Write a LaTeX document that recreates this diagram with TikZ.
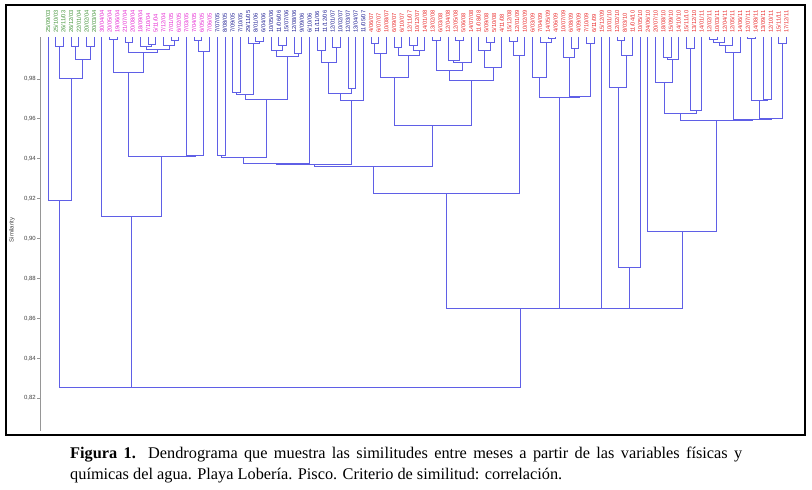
\documentclass[tikz,border=0pt]{standalone}
\usepackage{fontspec}
\setmainfont{Liberation Serif}
\setsansfont{Liberation Sans}
\usepackage{tikz}
\definecolor{dendro}{RGB}{95,95,230}
\definecolor{leafgreen}{RGB}{70,150,60}
\definecolor{leafmag}{RGB}{230,40,210}
\definecolor{leafblue}{RGB}{35,35,150}
\definecolor{leafred}{RGB}{235,45,45}
\definecolor{axisgray}{RGB}{150,150,150}
\tikzstyle{dendroline} = [draw=dendro, line width=0.8pt]
\tikzstyle{axisline} = [draw=axisgray, line width=0.9pt]
\tikzstyle{leaf} = [rotate=90, anchor=west, inner sep=0pt, font=\sffamily\fontsize{5.8}{6}\selectfont]
\tikzstyle{ticklab} = [inner sep=0pt, text=black!75, font=\sffamily\fontsize{6}{6}\selectfont]

\begin{document}
\begin{tikzpicture}[x=1pt,y=-1pt]
            \useasboundingbox (0,0) rectangle (812,490);
            \fill[white] (0,0) rectangle (812,490);
            \draw[line width=1.3pt] (6,5) rectangle (805,435);
            % similarity axis
            \draw[axisline] (40,37) -- (40,431);
            \foreach \k in {0,...,8}{
                \pgfmathtruncatemacro\v{98-2*\k}
                \draw[axisline] (37,{79+39.9*\k}) -- (40,{79+39.9*\k});
                \node[ticklab, anchor=east] (t\k) at (36,{79+39.9*\k}) {0,\v};
            }
            \node[ticklab, rotate=90] (ylab) at (12,230) {Similarity};
            % leaves
            \foreach \lab [count=\i from 0] in {25/09/03,25/10/03,26/11/03,26/12/03,22/01/04,20/02/04,20/03/04}
                \node[leaf, text=leafgreen] (l\i) at ({48+7.69*\i},33) {\lab};
            \foreach \lab [count=\i from 7] in {30/04/04,20/05/04,19/06/04,21/07/04,20/08/04,18/09/04,7/10/04,5/11/04,7/12/04,7/01/05,6/02/05,7/03/05,7/04/05,6/05/05,7/06/05}
                \node[leaf, text=leafmag] (l\i) at ({48+7.69*\i},33) {\lab};
            \foreach \lab [count=\i from 22] in {7/07/05,8/08/05,7/09/05,7/10/05,29/11/05,8/01/06,6/04/06,10/05/06,11/06/06,15/07/06,12/08/06,9/09/06,6/10/06,11/11/06,11/12/06,12/01/07,10/02/07,12/03/07,13/04/07,11/05/07}
                \node[leaf, text=leafblue] (l\i) at ({48+7.69*\i},33) {\lab};
            \foreach \lab [count=\i from 42] in {4/06/07,6/07/07,10/08/07,6/09/07,6/10/07,12/11/07,10/12/07,14/01/08,13/02/08,6/03/08,12/04/08,12/05/08,5/06/08,14/07/08,11/08/08,5/09/08,5/10/08,4/11/08,15/12/08,12/01/09,10/02/09,6/03/09,7/04/09,14/05/09,4/06/09,10/07/09,6/08/09,4/09/09,7/10/09,6/11/09,15/12/09,10/01/10,12/02/10,8/03/10,11/04/10,10/05/10,24/06/10,20/07/10,18/08/10,15/09/10,14/10/10,15/11/10,13/12/10,14/01/11,12/02/11,10/03/11,12/04/11,12/05/11,14/06/11,12/07/11,14/08/11,13/09/11,12/10/11,15/11/11,17/12/11}
                \node[leaf, text=leafred] (l\i) at ({48+7.69*\i},33) {\lab};
            % merges: left x/top y/right x/top y/merge y
            \foreach \xa/\ya/\xb/\yb/\ym in {
                55.7/37/63.4/37/46, 71.1/37/78.8/37/46, 86.5/37/94.1/37/46,
                74.95/46/90.3/46/59, 59.55/46/82.6/59/78, 48.0/37/71.1/78/200,
                109.5/37/117.2/37/39, 124.9/37/132.6/37/42, 148.0/37/155.7/37/44,
                140.3/37/151.85/44/46, 171.0/37/178.7/37/40, 163.4/37/174.85/40/45,
                146.1/46/169.1/45/49, 128.75/42/157.6/49/52, 113.35/39/143.2/52/72,
                194.1/37/201.8/37/40, 197.95/40/209.5/37/51, 186.4/37/203.7/51/155,
                128.3/72/195.05/155/156, 101.8/37/161.7/156/216,
                217.2/37/224.9/37/155, 255.6/37/263.3/37/41, 248.0/37/259.45/41/43,
                232.6/37/240.3/37/92, 236.45/92/253.7/43/94, 278.7/37/286.4/37/45,
                271.0/37/282.55/45/50, 294.1/37/301.8/37/53, 276.8/50/297.95/53/56,
                245.1/94/287.4/56/99, 221.05/155/266.25/99/157,
                317.2/37/324.9/37/50, 332.5/37/340.2/37/47, 321.05/50/336.35/47/62,
                347.9/37/355.6/37/88, 328.7/62/351.75/88/93, 340.2/93/363.3/37/100,
                243.65/157/309.5/37/163, 276.6/163/351.75/100/164,
                371.0/37/378.7/37/43, 374.85/43/386.4/37/53, 394.1/37/401.7/37/47,
                409.4/37/417.1/37/45, 413.25/45/424.8/37/50, 397.9/47/419.0/50/55,
                380.6/53/408.45/55/77,
                432.5/37/440.2/37/40, 455.6/37/463.3/37/40, 447.9/37/459.45/40/60,
                453.7/60/470.9/37/62, 436.35/40/462.3/62/70, 486.3/37/494.0/37/42,
                478.6/37/490.15/42/50, 484.4/50/501.7/37/67, 449.3/70/493.05/67/80,
                394.5/77/471.2/80/125, 314.2/164/432.85/125/166,
                509.4/37/517.1/37/41, 513.25/41/524.8/37/55, 373.5/166/519.0/55/193,
                547.9/37/555.5/37/38, 540.2/37/551.7/38/42, 532.5/37/545.95/42/77,
                570.9/37/578.6/37/48, 563.2/37/574.75/48/57, 586.3/37/594.0/37/43,
                569.0/57/590.15/43/96, 539.2/77/579.6/96/97,
                617.1/37/624.8/37/40, 620.95/40/632.4/37/55, 609.4/37/626.7/55/87,
                618.05/87/640.1/37/267,
                663.2/37/670.9/37/57, 667.05/57/678.6/37/59, 655.5/37/672.8/59/82,
                686.3/37/694.0/37/48, 690.15/48/701.7/37/110, 664.15/82/695.9/110/113,
                709.3/37/717.0/37/39, 713.15/39/724.7/37/42, 718.9/42/732.4/37/45,
                725.65/45/740.1/37/52, 747.8/37/755.5/37/38, 763.2/37/770.9/37/99,
                751.65/38/767.05/99/100, 778.6/37/786.2/37/43, 759.35/100/782.4/43/118,
                732.9/52/770.9/118/119, 680.0/113/751.9/119/120, 647.8/37/715.95/120/231,
                629.1/267/681.9/231/308, 601.7/37/655.5/308/308, 559.4/97/628.6/308/308,
                446.25/193/594.0/308/308,
                59.55/200/131.75/216/387, 95.65/387/520.1/308/387}
                \draw[dendroline] (\xa,\ya) -- (\xa,\ym) -- (\xb,\ym) -- (\xb,\yb);
            % caption
            \node[anchor=base west, inner sep=0pt, font=\fontsize{16.3}{19}\selectfont] (cap1) at (70,458)
                {\makebox[672pt][s]{\textbf{Figura 1.} Dendrograma que muestra las similitudes entre meses a partir de las variables físicas y}};
            \node[anchor=base west, inner sep=0pt, font=\fontsize{16.3}{19}\selectfont] (cap2) at (70,479)
                {químicas del agua. Playa Lobería. Pisco. Criterio de similitud: correlación.};
        \end{tikzpicture}
\end{document}
